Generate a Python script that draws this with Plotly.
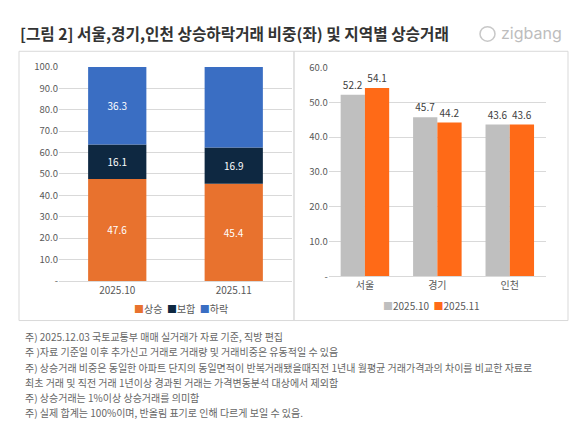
import plotly.graph_objects as go

# ---- data ----
months = ["2025.10", "2025.11"]
share_names = ["상승", "보합", "하락"]
share_up = [47.6, 45.4]
share_flat = [16.1, 16.9]
share_down = [36.3, 37.8]

regions = ["서울", "경기", "인천"]
rise_oct = [52.2, 45.7, 43.6]
rise_nov = [54.1, 44.2, 43.6]
rise_names = ["2025.10", "2025.11"]

left_ticks = [0, 10, 20, 30, 40, 50, 60, 70, 80, 90, 100]
right_ticks = [0, 10, 20, 30, 40, 50, 60]

title_text = "[그림 2] 서울,경기,인천 상승하락거래 비중(좌) 및 지역별 상승거래"
notes = [
    "주) 2025.12.03 국토교통부 매매 실거래가 자료 기준, 직방 편집",
    "주 )자료 기준일 이후 추가신고 거래로 거래량 및 거래비중은 유동적일 수 있음",
    "주) 상승거래 비중은 동일한 아파트 단지의 동일면적이 반복거래됐을때직전 1년내 월평균 거래가격과의 차이를 비교한 자료로",
    "최초 거래 및 직전 거래 1년이상 경과된 거래는 가격변동분석 대상에서 제외함",
    "주) 상승거래는 1%이상 상승거래를 의미함",
    "주) 실제 합계는 100%이며, 반올림 표기로 인해 다르게 보일 수 있음.",
]

# ---- style ----
W, H = 580, 422
FONT = "Noto Sans CJK KR, Noto Sans, sans-serif"
c_up, c_flat, c_down = "#E8722E", "#0E2841", "#3A6EC3"
c_oct, c_nov = "#BFBFBF", "#FF6A17"
axis_txt = "#595959"
grid = "#D9D9D9"

def px(x):
    return x / W

def py(y):
    return (H - y) / H

fig = go.Figure()

for name, vals, col in zip(share_names, [share_up, share_flat, share_down], [c_up, c_flat, c_down]):
    fig.add_trace(go.Bar(
        x=months, y=vals, name=name, marker=dict(color=col, line=dict(width=0)),
        text=[f"{v:.1f}" for v in vals], textposition="inside", insidetextanchor="middle",
        textfont=dict(color="white", size=10, family=FONT), cliponaxis=False,
        xaxis="x", yaxis="y", showlegend=False,
    ))

for name, vals, col in zip(rise_names, [rise_oct, rise_nov], [c_oct, c_nov]):
    fig.add_trace(go.Bar(
        x=regions, y=vals, name=name, marker=dict(color=col, line=dict(width=0)),
        text=[f"{v:.1f}" for v in vals], textposition="outside",
        textfont=dict(color="#404040", size=10, family=FONT), cliponaxis=False,
        xaxis="x2", yaxis="y2", showlegend=False,
    ))

def tt(v):
    return "-" if v == 0 else f"{v:.1f}"

fig.update_layout(
    width=W, height=H, margin=dict(l=0, r=0, t=0, b=0),
    paper_bgcolor="white", plot_bgcolor="white",
    font=dict(family=FONT, color=axis_txt, size=10),
    barmode="relative", bargap=0.5,
    xaxis=dict(domain=[px(51), px(284)], anchor="y", showgrid=False, ticks="",
               showline=True, linecolor=grid, linewidth=1,
               tickfont=dict(size=10, color=axis_txt)),
    yaxis=dict(domain=[py(274), py(52.7)], anchor="x", range=[0, 100],
               tickvals=left_ticks, ticktext=[tt(v) for v in left_ticks],
               showgrid=True, gridcolor=grid, gridwidth=1, zeroline=False, ticks="",
               tickfont=dict(size=9.5, color=axis_txt)),
    xaxis2=dict(domain=[px(320.7), px(538)], anchor="y2", showgrid=False, ticks="",
                showline=True, linecolor=grid, linewidth=1,
                tickfont=dict(size=10, color=axis_txt)),
    yaxis2=dict(domain=[py(269.3), py(53.3)], anchor="x2", range=[0, 60],
                tickvals=right_ticks, ticktext=[tt(v) for v in right_ticks],
                showgrid=True, gridcolor=grid, gridwidth=1, zeroline=False, ticks="",
                tickfont=dict(size=9.5, color=axis_txt)),
)

# right chart is grouped side by side
for i, tr in enumerate(fig.data[3:]):
    tr.update(offsetgroup=str(i), width=0.335, offset=-0.335 + 0.335 * i)

# panel boxes
fig.add_shape(type="rect", xref="paper", yref="paper", x0=px(11), x1=px(286), y0=py(315), y1=py(36.5),
              line=dict(color="#D9D9D9", width=1), layer="below")
fig.add_shape(type="rect", xref="paper", yref="paper", x0=px(286), x1=px(560), y0=py(315), y1=py(36.5),
              line=dict(color="#D9D9D9", width=1), layer="below")

# legends (manual)
def legend_text(names, cols):
    return "  ".join(f'<span style="color:{c}">■</span>{n}' for n, c in zip(names, cols))

fig.add_annotation(xref="paper", yref="paper", x=px(173), y=py(303), xanchor="center", yanchor="middle",
                   text=legend_text(share_names, [c_up, c_flat, c_down]), showarrow=False,
                   font=dict(size=10, color=axis_txt, family=FONT))
fig.add_annotation(xref="paper", yref="paper", x=px(423), y=py(299), xanchor="center", yanchor="middle",
                   text=legend_text(rise_names, [c_oct, c_nov]), showarrow=False,
                   font=dict(size=10, color=axis_txt, family=FONT))

# title
fig.add_annotation(xref="paper", yref="paper", x=px(10), y=py(18), xanchor="left", yanchor="middle",
                   text=f"<b>{title_text}</b>", showarrow=False,
                   font=dict(size=15.7, color="#333333", family=FONT))
# logo
fig.add_shape(type="circle", xref="paper", yref="paper", x0=px(472), x1=px(487), y0=py(26), y1=py(11),
              line=dict(color="#C8C8C8", width=1.5))
fig.add_annotation(xref="paper", yref="paper", x=px(491), y=py(18), xanchor="left", yanchor="middle",
                   text="zigbang", showarrow=False,
                   font=dict(size=16, color="#BDBDBD", family="Inter, sans-serif"))

# notes
for i, line in enumerate(notes):
    fig.add_annotation(xref="paper", yref="paper", x=px(15), y=py(331.7 + 15.7 * i), xanchor="left",
                       yanchor="middle", text=line, showarrow=False,
                       font=dict(size=10, color="#666666", family=FONT))

fig.write_html("out.html")
